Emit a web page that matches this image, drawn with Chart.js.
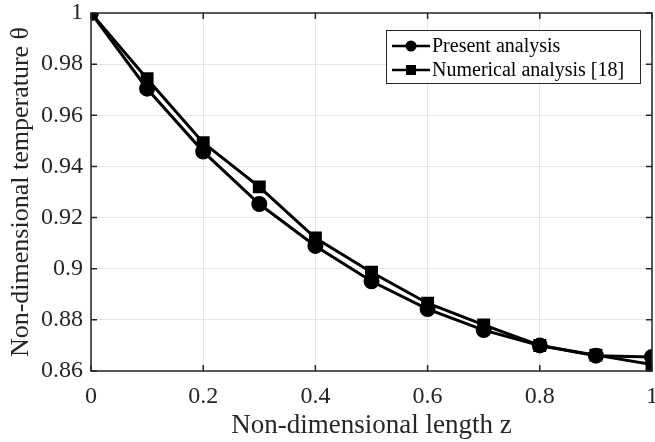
<!DOCTYPE html>
<html>
<head>
<meta charset="utf-8">
<script src="https://cdn.jsdelivr.net/npm/chart.js@4"></script>
<style>
  html, body { margin: 0; padding: 0; background: #fff; overflow: hidden; }
  #clip { width: 655px; height: 442px; overflow: hidden; }
  /* canvas a bit wider than the window: the "1" label gets cut like in the figure */
  #wrap { width: 662px; height: 442px; }
</style>
</head>
<body>
<div id="clip"><div id="wrap"><canvas id="graph"></canvas></div></div>
<script>
// data
const zValues = [0, 0.1, 0.2, 0.3, 0.4, 0.5, 0.6, 0.7, 0.8, 0.9, 1.0];
const presentAnalysis = [1.0, 0.9704, 0.9458, 0.9253, 0.9089, 0.8951, 0.8842, 0.8760, 0.8700, 0.8660, 0.8655];
const numericalAnalysis = [1.0, 0.9743, 0.9493, 0.9320, 0.9120, 0.8986, 0.8865, 0.8780, 0.8700, 0.8662, 0.8625];
const xTicks = [0, 0.2, 0.4, 0.6, 0.8, 1];
const yTicks = [0.86, 0.88, 0.9, 0.92, 0.94, 0.96, 0.98, 1];
const seriesNames = ['Present analysis', 'Numerical analysis [18]'];

const FONT = '"Liberation Serif", "Times New Roman", serif';

//---------------------------------------------
// frame + inward tick marks, like the matlab box
const framePlugin = {
  id: 'frame',
  afterDraw(chart) {
    const ctx = chart.ctx;
    const a = chart.chartArea;
    const xs = chart.scales.x, ys = chart.scales.y;
    ctx.save();
    ctx.strokeStyle = '#262626';
    ctx.lineWidth = 1.5;
    ctx.strokeRect(a.left, a.top, a.right - a.left, a.bottom - a.top);
    ctx.beginPath();
    xTicks.forEach(v => {
      const px = xs.getPixelForValue(v);
      ctx.moveTo(px, a.bottom); ctx.lineTo(px, a.bottom - 6);
      ctx.moveTo(px, a.top); ctx.lineTo(px, a.top + 6);
    });
    yTicks.forEach(v => {
      const py = ys.getPixelForValue(v);
      ctx.moveTo(a.left, py); ctx.lineTo(a.left + 6, py);
      ctx.moveTo(a.right, py); ctx.lineTo(a.right - 6, py);
    });
    ctx.stroke();
    ctx.restore();
  }
};

// legend box with line + marker samples
const legendPlugin = {
  id: 'boxLegend',
  afterDraw(chart) {
    const ctx = chart.ctx;
    const x0 = 386, y0 = 30, w = 254, h = 53;
    ctx.save();
    ctx.fillStyle = '#fff';
    ctx.fillRect(x0, y0, w, h);
    ctx.strokeStyle = '#262626';
    ctx.lineWidth = 1;
    ctx.strokeRect(x0 + 0.5, y0 + 0.5, w, h);
    chart.data.datasets.forEach((ds, i) => {
      const cy = y0 + 16 + i * 24;
      ctx.strokeStyle = '#000';
      ctx.lineWidth = 2.5;
      ctx.beginPath();
      ctx.moveTo(x0 + 6, cy); ctx.lineTo(x0 + 44, cy);
      ctx.stroke();
      ctx.fillStyle = '#000';
      if (ds.pointStyle === 'rect') {
        ctx.fillRect(x0 + 25 - 5, cy - 5, 10, 10);
      } else {
        ctx.beginPath();
        ctx.arc(x0 + 25, cy, 5.5, 0, Math.PI * 2);
        ctx.fill();
      }
      ctx.font = '20px ' + FONT;
      ctx.textBaseline = 'middle';
      ctx.fillText(ds.label, x0 + 46, cy + 1);
    });
    ctx.restore();
  }
};

const cfgLine = {
  type: 'line',
  data: {
    labels: zValues,
    datasets: [
      {
        label: seriesNames[0],
        data: zValues.map((z, i) => ({ x: z, y: presentAnalysis[i] })),
        borderColor: '#000',
        backgroundColor: '#000',
        borderWidth: 3,
        pointStyle: 'circle',
        pointRadius: 6.5,
        tension: 0
      },
      {
        label: seriesNames[1],
        data: zValues.map((z, i) => ({ x: z, y: numericalAnalysis[i] })),
        borderColor: '#000',
        backgroundColor: '#000',
        borderWidth: 3,
        pointStyle: 'rect',
        pointRadius: 7,
        tension: 0
      }
    ]
  },
  options: {
    animation: false,
    responsive: true,
    maintainAspectRatio: false,
    layout: { padding: { top: 13, right: 3, left: 6, bottom: 0 } },
    plugins: { legend: { display: false }, tooltip: { enabled: false } },
    scales: {
      x: {
        type: 'linear',
        min: 0, max: 1,
        afterBuildTicks: s => { s.ticks = xTicks.map(v => ({ value: v })); },
        afterFit: s => { s.height = 71; s.paddingLeft = 0; s.paddingRight = 0; },
        grid: { color: '#e6e6e6', lineWidth: 1, drawTicks: false },
        border: { display: false },
        ticks: {
          color: '#262626',
          font: { family: FONT, size: 24 },
          padding: 11,
          maxRotation: 0,
          callback: v => String(v)
        },
        title: {
          display: true,
          text: 'Non-dimensional length z',
          color: '#262626',
          font: { family: FONT, size: 27 },
          padding: { top: 0, bottom: 0 }
        }
      },
      y: {
        type: 'linear',
        min: 0.86, max: 1,
        afterBuildTicks: s => { s.ticks = yTicks.map(v => ({ value: v })); },
        afterFit: s => { s.width = 85; s.paddingTop = 0; s.paddingBottom = 0; },
        grid: { color: '#e6e6e6', lineWidth: 1, drawTicks: false },
        border: { display: false },
        ticks: {
          color: '#262626',
          font: { family: FONT, size: 24 },
          padding: 8,
          callback: v => String(Math.round(v * 100) / 100)
        },
        title: {
          display: true,
          text: 'Non-dimensional temperature θ',
          color: '#262626',
          font: { family: FONT, size: 26 },
          padding: { top: 0, bottom: 0 }
        }
      }
    }
  },
  plugins: [framePlugin, legendPlugin]
};

new Chart(document.getElementById('graph'), cfgLine);
</script>
</body>
</html>
